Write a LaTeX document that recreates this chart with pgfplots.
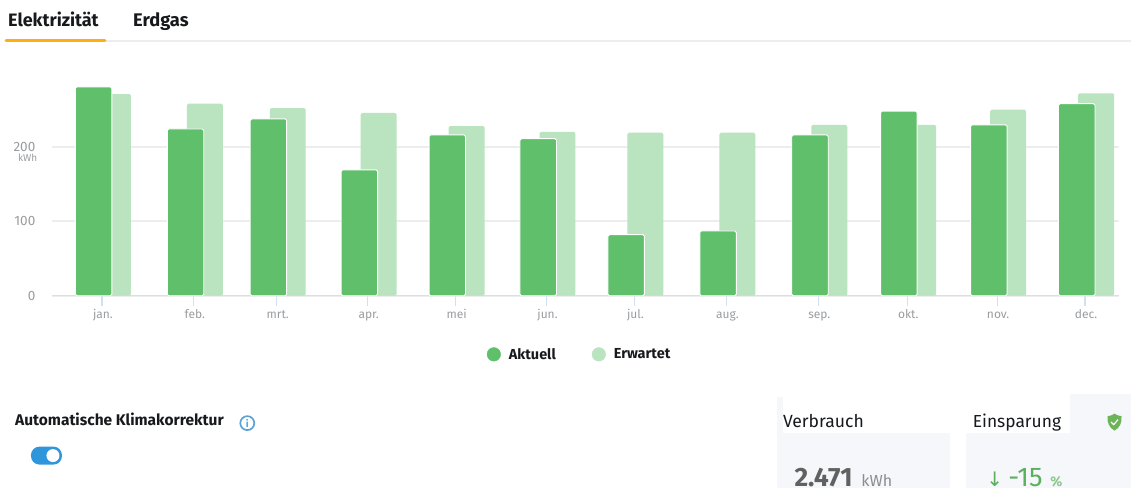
\documentclass[border=0pt]{standalone}
\usepackage{pgfplots}
\pgfplotsset{compat=1.18}
\usepackage{fontspec}
\setmainfont{Fira Sans}
\newfontfamily\symfont{DejaVu Sans}
\definecolor{aktuell}{HTML}{5FBF6A}
\definecolor{erwartet}{HTML}{BAE3BF}
\definecolor{gridgray}{HTML}{ECEDEF}
\definecolor{axisblue}{HTML}{D3DFF3}
\definecolor{ticktext}{HTML}{9A9C9F}
\definecolor{cardgray}{HTML}{F5F7FA}
\definecolor{inktext}{HTML}{17191C}
\definecolor{toggleblue}{HTML}{2F96DC}
\definecolor{tabamber}{HTML}{FFAE12}
\definecolor{infoblue}{HTML}{5BA3D6}
\definecolor{savegreen}{HTML}{5CAF5E}
\definecolor{shieldgreen}{HTML}{6DB35A}

% monthly consumption, x is the month position on a time scale
\pgfplotstableread{
x    aktuell erwartet
102  280.5   271
194  224     258
277  237.5   252
368  169     245.5
456  216     228
547  211     220
635  82      219
727  87      219
819  216     229.5
908  248     229.5
998  229.5   250
1086 258     272
}\monthly

\begin{document}
\begin{tikzpicture}[x=1pt,y=1pt]
% page frame
\path (0,0) rectangle (1132,488);

% tab bar
\begin{scope}[shift={(0,488)},y=-1pt]
  \draw[gridgray,line width=2pt] (5,41.5) -- (1132,41.5);
  \draw[tabamber,line width=2.8pt,line cap=round] (6,40.5) -- (105,40.5);
  \node[anchor=base west,inner sep=0,text=inktext,font=\fontsize{18}{20}\selectfont\bfseries] at (8,26.5) {Elektrizität};
  \node[anchor=base west,inner sep=0,text=inktext,font=\fontsize{18.3}{20}\selectfont\bfseries] at (133,26.5) {Erdgas};
\end{scope}

\begin{axis}[
  at={(52pt,192pt)},anchor=south west,
  scale only axis,width=1068pt,height=230pt,
  xmin=52,xmax=1120,ymin=0,ymax=308.7,
  axis x line=bottom,axis y line=left,
  axis line style={-},
  x axis line style={axisblue,line width=1.4pt},
  y axis line style={draw=none},
  xtick=data,
  xticklabels={jan.,feb.,mrt.,apr.,mei,jun.,jul.,aug.,sep.,okt.,nov.,dec.},
  ytick={0,100,200},
  ymajorgrids,
  grid style={gridgray,line width=1.8pt},
  xtick style={color=axisblue,line width=1.2pt,/pgfplots/major tick length=10pt},
  ytick style={color=white,/pgfplots/major tick length=0pt},
  xtick align=outside,
  x tick label style={text=ticktext,font=\fontsize{12}{14}\selectfont,text height=8.5pt,text depth=2.5pt,xshift=1pt,yshift=-6pt},
  y tick label style={text=ticktext,font=\fontsize{13.5}{15}\selectfont,xshift=-11pt},
  /pgf/number format/assume math mode=true,
  ybar,
  clip=false,
  legend columns=2,
  legend style={
    at={(0.4945,-0.255)},anchor=center,draw=none,fill=none,
    font=\fontsize{14.5}{16}\selectfont\bfseries,text=inktext,
    /tikz/every even column/.append style={column sep=34pt},
    cells={anchor=west},
  },
]
\addplot[forget plot,fill=erwartet,draw=none,bar width=36pt,bar shift=11pt,rounded corners=1.5pt]
  table[x=x,y=erwartet] {\monthly};
\addplot[forget plot,fill=aktuell,draw=white,line width=0.9pt,bar width=36.5pt,bar shift=-8.3pt,rounded corners=1.5pt]
  table[x=x,y=aktuell] {\monthly};
\addlegendimage{legend image code/.code={\fill[aktuell] (-0.03cm,0pt) circle (6.8pt);}}
\addlegendentry{\hspace*{6pt}Aktuell}
\addlegendimage{legend image code/.code={\fill[erwartet] (-0.03cm,0pt) circle (6.8pt);}}
\addlegendentry{\hspace*{6pt}Erwartet}
\node[text=ticktext,font=\fontsize{10}{11}\selectfont,anchor=base east,inner sep=0] at (axis cs:37.5,181) {kWh};
\end{axis}

% controls and summary cards
\begin{scope}[shift={(0,488)},y=-1pt]
  \node[anchor=base west,inner sep=0,text=inktext,font=\fontsize{15.5}{18}\selectfont\bfseries] at (15,426) {Automatische Klimakorrektur};
  \draw[infoblue,line width=1.7pt] (247.5,423.5) circle (7);
  \node[text=infoblue,font=\fontsize{10}{10}\selectfont\bfseries,inner sep=0] at (247.5,423.8) {i};
  \fill[toggleblue,rounded corners=8.5pt] (31,447) rectangle (62,465);
  \fill[white] (53,456) circle (6.5);

  \fill[cardgray] (777.5,397) rectangle (951,488);
  \fill[cardgray] (967,394) rectangle (1132,488);
  \fill[white] (784,394) rectangle (951,433.5);
  \fill[white] (967,394) rectangle (1071,433.5);
  \fill[white] (951,394) rectangle (967,488);
  \node[anchor=base west,inner sep=0,text=inktext,font=\fontsize{17.6}{20}\selectfont] at (783.5,428) {Verbrauch};
  \node[anchor=base west,inner sep=0,text=inktext,font=\fontsize{17.4}{20}\selectfont] at (973.5,428) {Einsparung};
  \fill[shieldgreen] (1115.5,414) .. controls (1112.5,416) and (1110,416.5) .. (1108.5,416.5)
     .. controls (1108,423) and (1110,428) .. (1115.5,431)
     .. controls (1121,428) and (1123,423) .. (1122.5,416.5)
     .. controls (1121,416.5) and (1118.5,416) .. (1115.5,414) -- cycle;
  \draw[white,line width=1.2pt] (1112,422.5) -- (1114.7,425) -- (1119,420);

  \node[anchor=base west,inner sep=0,text=black!62,font=\fontsize{26.5}{28}\selectfont\bfseries] at (795,486.5) {2.471};
  \node[anchor=base west,inner sep=0,text=ticktext!90!black,font=\fontsize{16}{18}\selectfont] at (862,486.5) {kWh};
  \node[anchor=base west,inner sep=0,text=savegreen,font=\fontsize{20}{24}\selectfont\symfont] at (987,486.5) {↓};
  \node[anchor=base west,inner sep=0,text=savegreen,font=\fontsize{27}{28}\selectfont] at (1009,486.5) {-15};
  \node[anchor=base west,inner sep=0,text=savegreen!70,font=\fontsize{14}{16}\selectfont\bfseries] at (1051,486.5) {\%};
\end{scope}
\end{tikzpicture}
\end{document}
